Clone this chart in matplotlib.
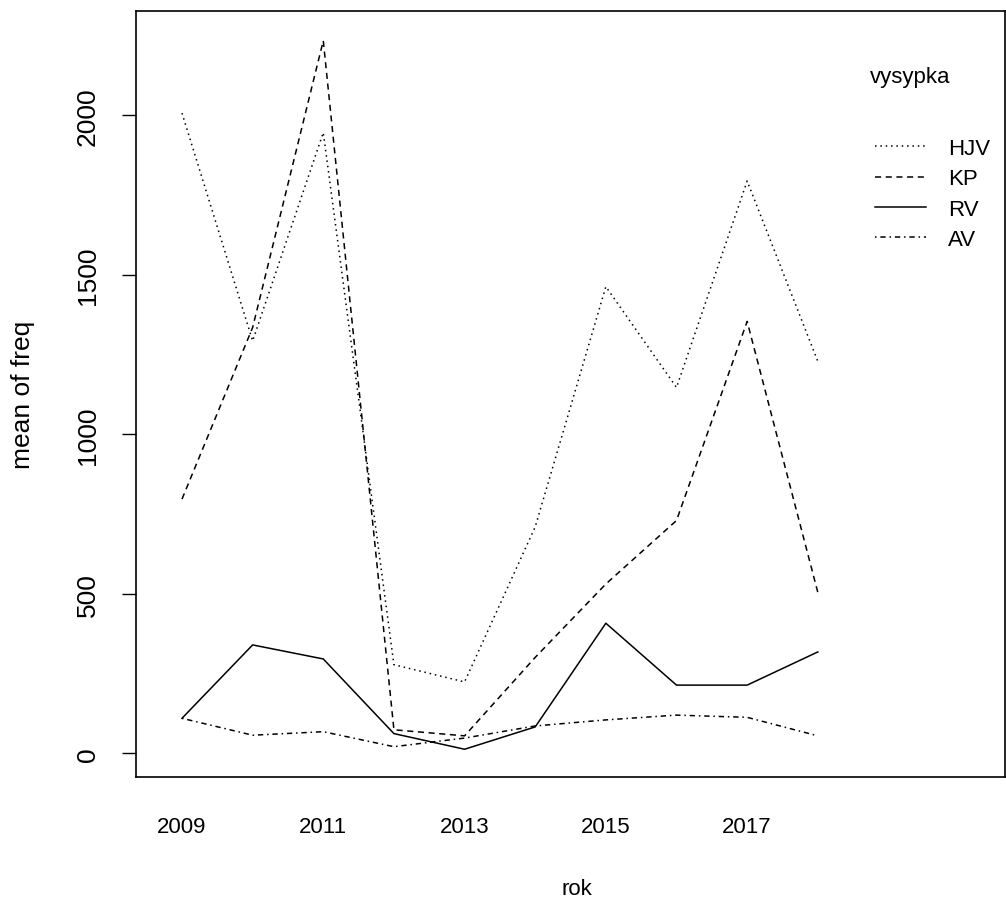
import numpy as np
import matplotlib.pyplot as plt
from matplotlib import font_manager

rok = [2009, 2010, 2011, 2012, 2013, 2014, 2015, 2016, 2017, 2018]
hjv = [2007, 1293, 1946, 278, 224, 710, 1463, 1147, 1794, 1229]
kp = [797, 1335, 2234, 74, 55, 301, 531, 730, 1354, 505]
rv = [110, 340, 296, 62, 13, 83, 408, 214, 214, 318]
av = [110, 57, 68, 21, 48, 86, 105, 120, 113, 55]

names = ['HJV', 'KP', 'RV', 'AV']
series = [hjv, kp, rv, av]
styles = [(0, (1, 2.5)), (0, (4, 3)), '-', (0, (1, 2.5, 3.5, 2.5))]

# narrow face for horizontal text, if present
try:
    font_manager.findfont('Liberation Sans Narrow', fallback_to_default=False)
    hfam = ['Liberation Sans Narrow', 'DejaVu Sans']
    hsize = 19.5
except Exception:
    hfam = ['Liberation Sans', 'DejaVu Sans']
    hsize = 16
vfam = ['Liberation Sans', 'DejaVu Sans']
vsize = 19

W, H = 1006, 904
fig = plt.figure(figsize=(W / 100, H / 100), dpi=100)
ax = fig.add_axes([136 / W, 1 - 778 / H, (1005 - 136) / W, (778 - 12) / H])

for name, vals, ls in zip(names, series, styles):
    ax.plot(rok, vals, color='black', lw=1.1, linestyle=ls, label=name)

ax.set_xlim(2009 - 0.651, 2018 + 2.65)
ax.set_ylim(-74, 2327)
ax.set_xticks([2009, 2011, 2013, 2015, 2017])
ax.set_xticklabels(['2009', '2011', '2013', '2015', '2017'], family=hfam, fontsize=hsize)
ax.tick_params(axis='x', length=0, pad=28)
ax.set_yticks([0, 500, 1000, 1500, 2000])
ax.set_yticklabels(['0', '500', '1000', '1500', '2000'], family=vfam, fontsize=vsize,
                   rotation=90, va='center')
ax.tick_params(axis='y', length=10, width=1, pad=16)
for s in ax.spines.values():
    s.set_linewidth(1.2)

ax.set_xlabel('rok', family=hfam, fontsize=hsize, va='center')
ax.xaxis.set_label_coords((577 - 136) / (1005 - 136), -(890 - 778) / 766)
ax.set_ylabel('mean of freq', family=vfam, fontsize=vsize, va='center')
ax.yaxis.set_label_coords(-(136 - 23) / (1005 - 136), 0.5)

leg = ax.legend(loc='upper left', bbox_to_anchor=(875 / W, 1 - 139 / H),
                bbox_transform=fig.transFigure, frameon=False,
                prop={'family': hfam, 'size': hsize},
                handlelength=2.3, handletextpad=1.0, labelspacing=0.42,
                borderpad=0, borderaxespad=0)
fig.text(870 / W, 1 - 77 / H, 'vysypka', family=hfam, fontsize=hsize, va='center', ha='left')

plt.savefig('out.png', dpi=100)
